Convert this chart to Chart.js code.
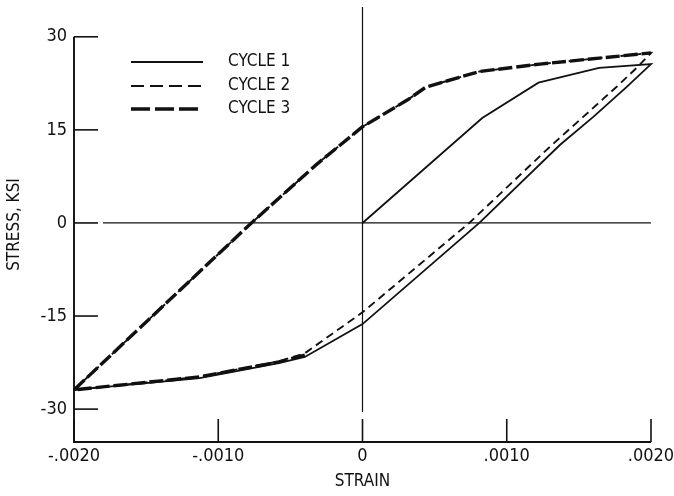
<!DOCTYPE html>
<html>
<head>
<meta charset="utf-8">
<script src="https://cdn.jsdelivr.net/npm/chart.js@4"></script>
<style>
  html, body { margin: 0; padding: 0; background: #fff; }
  #wrap { width: 674px; height: 496px; }
</style>
</head>
<body>
<div id="wrap"><canvas id="chart"></canvas></div>
<script>
// Hysteresis loops, stress (ksi) vs strain
const cycleNames = ['CYCLE 1', 'CYCLE 2', 'CYCLE 3'];

// cycle 1: virgin loading, then unloading to -.0020
const cycle1Strain = [0, 0.00083, 0.00122, 0.00164, 0.002, 0.00183, 0.00160, 0.00137, 0.00081, 0, -0.0004, -0.00058, -0.00113, -0.002];
const cycle1Stress = [0, 16.9, 22.6, 25.0, 25.6, 21.9, 17.1, 12.6, 0, -16.3, -21.6, -22.6, -25.0, -26.9];

// cycle 2: reloading from -.0020, then unloading
const cycle2Strain = [-0.002, -0.00077, -0.00032, 0, 0.00031, 0.00044, 0.00081, 0.00123, 0.002, 0.00191, 0.00176, 0.00153, 0.0013, 0.00074, 0, -0.0004, -0.00058, -0.00113, -0.002];
const cycle2Stress = [-26.9, 0, 9.4, 15.5, 19.8, 21.9, 24.4, 25.6, 27.4, 25.2, 21.9, 17.1, 12.3, 0, -14.4, -21.0, -22.3, -24.8, -26.9];

// cycle 3
const cycle3Strain = [-0.0004, -0.00058, -0.00113, -0.002, -0.00077, -0.00032, 0, 0.00031, 0.00044, 0.00081, 0.00123, 0.002];
const cycle3Stress = [-21.3, -22.4, -24.8, -26.9, 0, 9.4, 15.5, 19.8, 21.9, 24.4, 25.6, 27.4];

const strainTicks = [-0.002, -0.001, 0, 0.001, 0.002];
const stressTicks = [-30, -15, 0, 15, 30];

const ink = '#111';
const FONT = '"DejaVu Sans Condensed", "DejaVu Sans", sans-serif';

function points(xs, ys) {
  return xs.map((x, i) => ({ x: x, y: ys[i] }));
}

function fmtStrain(v) {
  if (Math.abs(v) < 1e-9) return '0';
  const s = Math.abs(v).toFixed(4).replace(/^0/, '');
  return (v < 0 ? '-' : '') + s;
}

const styles = [
  { borderWidth: 1.8, borderDash: [] },
  { borderWidth: 1.9, borderDash: [8, 5] },
  { borderWidth: 3.4, borderDash: [14, 4] }
];

const series = [
  points(cycle1Strain, cycle1Stress),
  points(cycle2Strain, cycle2Stress),
  points(cycle3Strain, cycle3Stress)
];

const datasets = series.map((pts, i) => ({
  label: cycleNames[i],
  data: pts,
  showLine: true,
  borderColor: ink,
  borderWidth: styles[i].borderWidth,
  borderDash: styles[i].borderDash,
  pointRadius: 0,
  tension: 0,
  fill: false,
  clip: 4
}));

// axes, inward ticks and zero lines
const frame = {
  id: 'frame',
  beforeDatasetsDraw(chart) {
    const { ctx, chartArea: a, scales: { x, y } } = chart;
    const seg = (x1, y1, x2, y2) => {
      ctx.beginPath(); ctx.moveTo(x1, y1); ctx.lineTo(x2, y2); ctx.stroke();
    };
    ctx.save();
    ctx.strokeStyle = ink;
    ctx.lineWidth = 1.9;
    ctx.beginPath();
    ctx.moveTo(a.left, y.getPixelForValue(30));
    ctx.lineTo(a.left, a.bottom);
    ctx.lineTo(a.right, a.bottom);
    ctx.stroke();
    ctx.lineWidth = 1.6;
    stressTicks.forEach(v => {
      const py = y.getPixelForValue(v);
      seg(a.left, py, a.left + 24, py);
    });
    strainTicks.forEach(v => {
      const px = x.getPixelForValue(v);
      seg(px, a.bottom, px, a.bottom - 23);
    });
    ctx.lineWidth = 1.2;
    const x0 = x.getPixelForValue(0);
    const y0 = y.getPixelForValue(0);
    seg(x0, a.top, x0, a.bottom - 30);
    seg(a.left + 29, y0, a.right, y0);
    ctx.restore();
  }
};

// legend in upper left of plot
const keyBox = {
  id: 'keyBox',
  afterDatasetsDraw(chart) {
    const { ctx } = chart;
    const rows = [62, 86, 109];
    const legendDash = [[], [13, 6], [19, 5]];
    ctx.save();
    ctx.strokeStyle = ink;
    ctx.fillStyle = ink;
    ctx.font = '17px ' + FONT;
    ctx.textBaseline = 'middle';
    rows.forEach((ry, i) => {
      ctx.lineWidth = styles[i].borderWidth;
      ctx.setLineDash(legendDash[i]);
      ctx.beginPath();
      ctx.moveTo(131, ry);
      ctx.lineTo(203, ry);
      ctx.stroke();
      ctx.setLineDash([]);
      ctx.fillText(cycleNames[i], 228, ry);
    });
    ctx.restore();
  }
};

new Chart(document.getElementById('chart'), {
  type: 'scatter',
  data: { datasets: datasets },
  options: {
    responsive: true,
    maintainAspectRatio: false,
    animation: false,
    layout: { padding: { top: 7, right: 23, left: 0, bottom: 0 } },
    plugins: {
      legend: { display: false },
      tooltip: { enabled: false }
    },
    scales: {
      x: {
        type: 'linear',
        min: -0.002,
        max: 0.002,
        afterBuildTicks: s => { s.ticks = strainTicks.map(v => ({ value: v })); },
        afterFit: s => { s.height = 54; s.paddingLeft = 0; s.paddingRight = 0; },
        grid: { display: false, drawTicks: false },
        border: { display: false },
        ticks: {
          color: ink,
          font: { family: FONT, size: 18 },
          padding: 4,
          maxRotation: 0,
          callback: v => fmtStrain(v)
        },
        title: {
          display: true,
          text: 'STRAIN',
          color: ink,
          font: { family: FONT, size: 17 },
          padding: { top: 0, bottom: 4 }
        }
      },
      y: {
        type: 'linear',
        min: -35.3,
        max: 34.8,
        afterBuildTicks: s => { s.ticks = stressTicks.map(v => ({ value: v })); },
        afterFit: s => { s.width = 74; s.paddingTop = 0; s.paddingBottom = 0; },
        grid: { display: false, drawTicks: false },
        border: { display: false },
        ticks: {
          color: ink,
          font: { family: FONT, size: 18 },
          padding: 7
        },
        title: {
          display: true,
          text: 'STRESS, KSI',
          color: ink,
          font: { family: FONT, size: 17 },
          padding: { top: 4, bottom: 0 }
        }
      }
    }
  },
  plugins: [frame, keyBox]
});
</script>
</body>
</html>
